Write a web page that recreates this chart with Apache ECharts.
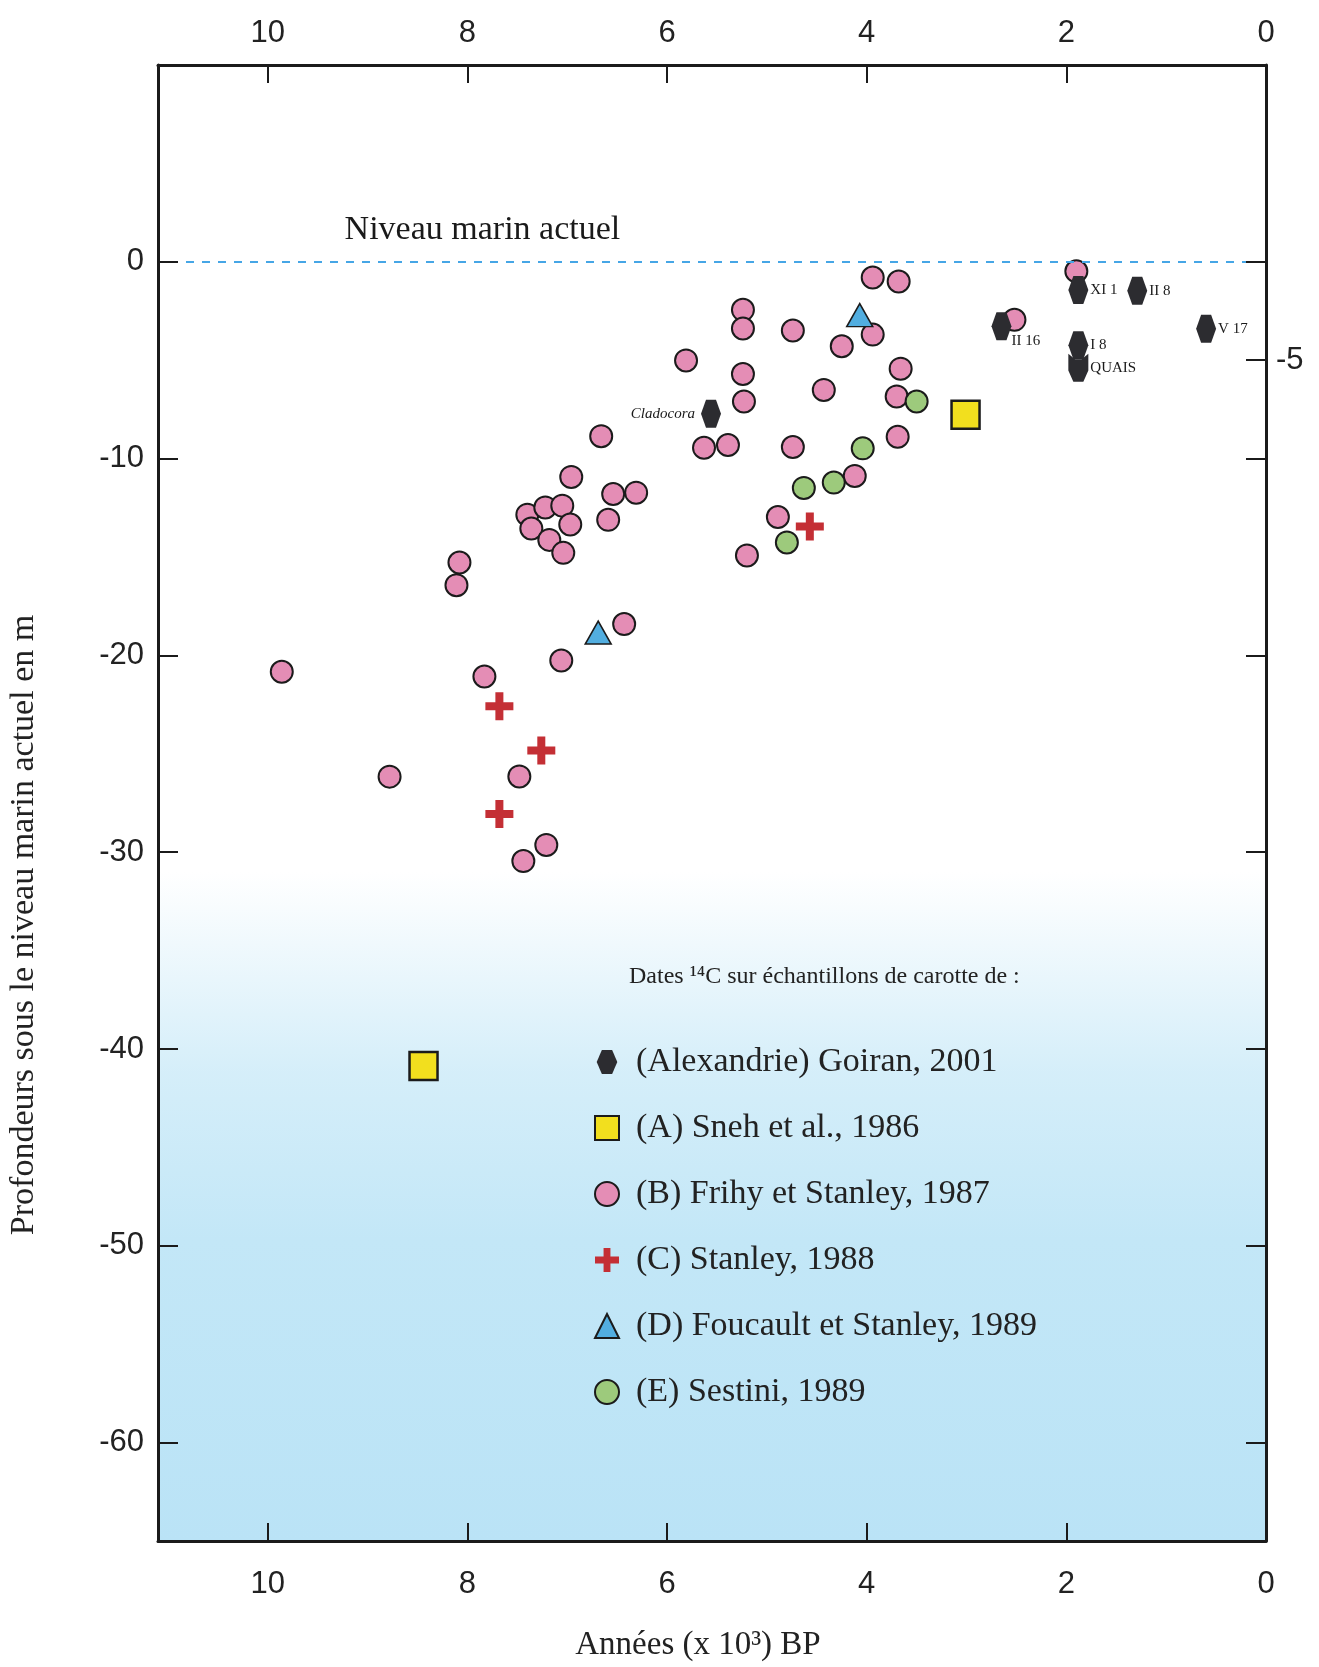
<!DOCTYPE html>
<html>
<head>
<meta charset="utf-8">
<script src="https://cdn.jsdelivr.net/npm/echarts@6/dist/echarts.min.js"></script>
<style>
html,body{margin:0;padding:0;background:#fff;}
#chart{width:1319px;height:1667px;}
</style>
</head>
<body>
<div id="chart"></div>
<script>
// données : [âge (x 10^3 ans BP), profondeur (m)]
var goiran = [[5.56,-7.72],[1.88,-1.43],[1.29,-1.47],[2.65,-3.27],[1.88,-4.24],[1.88,-5.38],[0.60,-3.40]];
var goiranLabels = ['Cladocora','XI 1','II 8','II 16','I 8','QUAIS','V 17'];
var sneh = [[3.01,-7.77],[8.44,-40.87]];
var frihy = [
    [3.94,-0.80],[3.68,-1.00],[5.24,-2.44],[5.24,-3.39],[4.74,-3.49],[3.94,-3.70],
    [4.25,-4.29],[5.81,-5.01],[5.24,-5.70],[3.66,-5.43],[4.43,-6.51],[5.23,-7.10],
    [3.70,-6.84],[6.66,-8.86],[5.63,-9.45],[5.39,-9.31],[4.74,-9.41],[3.69,-8.89],
    [4.12,-10.88],[6.54,-11.80],[6.31,-11.73],[6.59,-13.11],[4.89,-12.97],[5.20,-14.92],
    [1.90,-0.48],[2.52,-2.95],[6.96,-10.93],[7.40,-12.85],[7.22,-12.48],[7.05,-12.39],
    [6.97,-13.35],[7.36,-13.55],[7.18,-14.13],[7.04,-14.79],[8.08,-15.28],[8.11,-16.43],
    [9.86,-20.83],[6.43,-18.41],[7.06,-20.26],[7.83,-21.07],[8.78,-26.16],[7.48,-26.15],
    [7.21,-29.63],[7.44,-30.45]
];
var stanley = [[4.57,-13.45],[7.68,-22.59],[7.26,-24.83],[7.68,-28.06]];
var foucault = [[4.07,-2.71],[6.69,-18.84]];
var sestini = [[3.50,-7.10],[4.04,-9.48],[4.33,-11.22],[4.63,-11.49],[4.80,-14.26]];

var xTicks = [0,2,4,6,8,10];
var yTicks = [0,-10,-20,-30,-40,-50,-60];
var yTicksRight = [0,-5,-10,-20,-30,-40,-50,-60];
var yLabelsRight = [-5];

var seriesNames = [
    '(Alexandrie) Goiran, 2001',
    '(A) Sneh et al., 1986',
    '(B) Frihy et Stanley, 1987',
    '(C) Stanley, 1988',
    '(D) Foucault et Stanley, 1989',
    '(E) Sestini, 1989'
];

var hexPath = 'path://M3,0 L9,0 L12,7 L9,14 L3,14 L0,7Z';
var quaisPath = 'path://M0,0 L4,3 L8,3 L12,0 L12,9 L9,15 L3,15 L0,9Z';
var crossPath = 'path://M-4,-14 L4,-14 L4,-4 L14,-4 L14,4 L4,4 L4,14 L-4,14 L-4,4 L-14,4 L-14,-4 L-4,-4Z';

var serif = '"Liberation Serif", "DejaVu Serif", serif';
var sans = '"Liberation Sans", Arial, sans-serif';

// étiquettes des points de Goiran
var goiranData = goiran.map(function (p, i) {
    var item = {value: p, label: {show: true, formatter: goiranLabels[i], position: 'right', distance: 2}};
    if (goiranLabels[i] === 'Cladocora') {
        item.label.position = 'left';
        item.label.distance = 6;
        item.label.fontStyle = 'italic';
    }
    if (goiranLabels[i] === 'II 16') {
        item.label.offset = [-2, 15];
    }
    if (goiranLabels[i] === 'QUAIS') {
        item.symbol = quaisPath;
    }
    return item;
});

var chart = echarts.init(document.getElementById('chart'));

var axisLine = {show: true, onZero: false, lineStyle: {color: '#1b1b1b', width: 3}};
var tickLine = {color: '#1b1b1b', width: 2};

var option = {
    backgroundColor: '#ffffff',
    animation: false,
    title: {
        text: 'Dates \u00b9\u2074C sur \u00e9chantillons de carotte de :',
        left: 624,
        top: 960,
        textStyle: {fontFamily: serif, fontSize: 24, fontWeight: 'normal', color: '#222'}
    },
    legend: {
        data: seriesNames,
        orient: 'vertical',
        left: 589,
        top: 1040,
        itemWidth: 24,
        itemHeight: 24,
        itemGap: 32,
        textStyle: {fontFamily: serif, fontSize: 34, color: '#222', padding: [0, 0, 0, 12]}
    },
    grid: {left: 158, right: 53, top: 65, bottom: 111},
    xAxis: [{
        type: 'value',
        position: 'bottom',
        inverse: true,
        min: 0,
        max: 11.1,
        interval: 2,
        z: 10,
        name: 'Ann\u00e9es (x 10\u00b3) BP',
        nameLocation: 'middle',
        nameGap: 88,
        nameTextStyle: {fontFamily: serif, fontSize: 33, color: '#222', padding: [0, 28, 0, 0]},
        axisLine: axisLine,
        axisTick: {inside: true, length: 18, customValues: xTicks, lineStyle: tickLine},
        axisLabel: {customValues: xTicks, margin: 28, fontFamily: sans, fontSize: 31, color: '#222'},
        splitLine: {show: false}
    }, {
        type: 'value',
        position: 'top',
        inverse: true,
        min: 0,
        max: 11.1,
        interval: 2,
        z: 10,
        axisLine: axisLine,
        axisTick: {inside: true, length: 18, customValues: xTicks, lineStyle: tickLine},
        axisLabel: {customValues: xTicks, margin: 16, fontFamily: sans, fontSize: 31, color: '#222'},
        splitLine: {show: false}
    }],
    yAxis: [{
        type: 'value',
        position: 'left',
        min: -65,
        max: 10,
        interval: 5,
        z: 10,
        axisLine: axisLine,
        axisTick: {inside: true, length: 20, customValues: yTicks, lineStyle: tickLine},
        axisLabel: {customValues: yTicks, margin: 14, fontFamily: sans, fontSize: 31, color: '#222'},
        splitLine: {show: false}
    }, {
        type: 'value',
        position: 'right',
        min: -65,
        max: 10,
        interval: 5,
        z: 10,
        axisLine: axisLine,
        axisTick: {inside: true, length: 20, customValues: yTicksRight, lineStyle: tickLine},
        axisLabel: {customValues: yLabelsRight, margin: 10, fontFamily: sans, fontSize: 31, color: '#222'},
        splitLine: {show: false}
    }],
    graphic: [{
        type: 'text',
        x: 24,
        y: 925,
        rotation: Math.PI / 2,
        style: {
            text: 'Profondeurs sous le niveau marin actuel en m',
            font: '34px ' + serif,
            fill: '#222',
            textAlign: 'center',
            textVerticalAlign: 'middle'
        }
    }],
    series: [
        {
            // fond bleu + niveau marin actuel
            name: 'niveau',
            type: 'scatter',
            data: [[7.85, 1.6]],
            symbolSize: 0,
            silent: true,
            z: 1,
            itemStyle: {opacity: 1},
            label: {
                show: true,
                position: 'inside',
                formatter: 'Niveau marin actuel',
                fontFamily: serif,
                fontSize: 34,
                color: '#1a1a1a'
            },
            markArea: {
                silent: true,
                itemStyle: {
                    color: {
                        type: 'linear', x: 0, y: 0, x2: 0, y2: 1,
                        colorStops: [
                            {offset: 0, color: 'rgba(195,231,247,0)'},
                            {offset: 0.3, color: 'rgba(195,231,247,0.7)'},
                            {offset: 0.55, color: 'rgba(195,231,247,1)'},
                            {offset: 1, color: 'rgba(186,227,246,1)'}
                        ]
                    }
                },
                data: [[{xAxis: 11.1, yAxis: -31}, {xAxis: 0, yAxis: -65}]]
            },
            markLine: {
                silent: true,
                symbol: ['none', 'none'],
                label: {show: false},
                lineStyle: {color: '#46a6e6', width: 2, type: [8, 8]},
                data: [{yAxis: 0}]
            }
        },
        {
            name: seriesNames[0],
            type: 'scatter',
            data: goiranData,
            symbol: hexPath,
            symbolSize: [20, 28],
            z: 4,
            itemStyle: {color: '#2c2c30', opacity: 1},
            label: {fontFamily: serif, fontSize: 15, color: '#1a1a1a'}
        },
        {
            name: seriesNames[1],
            type: 'scatter',
            data: sneh,
            symbol: 'rect',
            symbolSize: 28,
            itemStyle: {color: '#f2df1e', borderColor: '#1b1b1b', borderWidth: 2.5, opacity: 1}
        },
        {
            name: seriesNames[2],
            type: 'scatter',
            data: frihy,
            symbol: 'circle',
            symbolSize: 22,
            itemStyle: {color: '#e48db5', borderColor: '#1b1b1b', borderWidth: 2, opacity: 1}
        },
        {
            name: seriesNames[3],
            type: 'scatter',
            data: stanley,
            symbol: crossPath,
            symbolSize: 28,
            symbolKeepAspect: true,
            itemStyle: {color: '#c42f35', opacity: 1}
        },
        {
            name: seriesNames[4],
            type: 'scatter',
            data: foucault,
            symbol: 'triangle',
            symbolSize: [26, 23],
            itemStyle: {color: '#52aee0', borderColor: '#1b1b1b', borderWidth: 1.5, opacity: 1}
        },
        {
            name: seriesNames[5],
            type: 'scatter',
            data: sestini,
            symbol: 'circle',
            symbolSize: 22,
            itemStyle: {color: '#9dca7c', borderColor: '#1b1b1b', borderWidth: 2, opacity: 1}
        }
    ]
};

chart.setOption(option);
</script>
</body>
</html>
